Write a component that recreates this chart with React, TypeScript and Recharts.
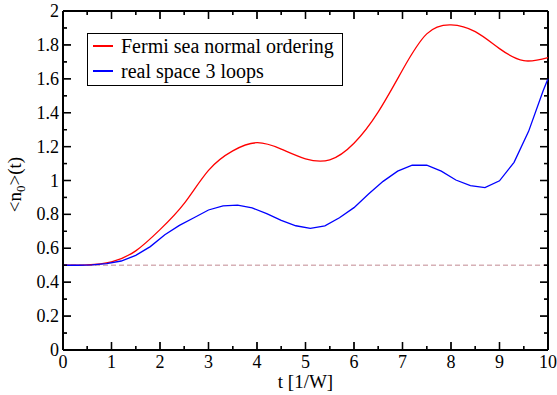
import { LineChart, Line, XAxis, YAxis, ReferenceLine, Legend } from "recharts";

// Fermi sea normal ordering (red, smooth)
const redT = [0, 0.5, 1, 1.5, 2, 2.5, 3, 3.5, 4, 4.5, 5, 5.5, 6, 6.5, 7, 7.5, 8, 8.5, 9, 9.5, 10];
const redN = [0.5, 0.502, 0.52, 0.585, 0.71, 0.865, 1.06, 1.175, 1.223, 1.185, 1.128, 1.122, 1.22, 1.405, 1.652, 1.865, 1.918, 1.878, 1.778, 1.707, 1.725];

// real space 3 loops (blue, piecewise)
const blueT = [0, 0.3, 0.6, 0.9, 1.2, 1.5, 1.8, 2.1, 2.4, 2.7, 3, 3.3, 3.6, 3.9, 4.2, 4.5, 4.8, 5.1, 5.4, 5.7, 6, 6.3, 6.6, 6.9, 7.2, 7.5, 7.8, 8.1, 8.4, 8.7, 9, 9.3, 9.6, 9.9, 10];
const blueN = [0.5, 0.5, 0.502, 0.51, 0.525, 0.558, 0.61, 0.68, 0.735, 0.78, 0.826, 0.85, 0.855, 0.838, 0.805, 0.765, 0.733, 0.718, 0.732, 0.78, 0.84, 0.92, 0.995, 1.055, 1.09, 1.09, 1.055, 1.003, 0.97, 0.958, 0.998, 1.107, 1.29, 1.53, 1.6];

const xTicks = [0, 0.5, 1, 1.5, 2, 2.5, 3, 3.5, 4, 4.5, 5, 5.5, 6, 6.5, 7, 7.5, 8, 8.5, 9, 9.5, 10];
const yTicks = [0, 0.1, 0.2, 0.3, 0.4, 0.5, 0.6, 0.7, 0.8, 0.9, 1, 1.1, 1.2, 1.3, 1.4, 1.5, 1.6, 1.7, 1.8, 1.9, 2];

const redData = redT.map((t, i) => ({ t, n: redN[i] }));
const blueData = blueT.map((t, i) => ({ t, n: blueN[i] }));

const FONT = "'Liberation Serif', 'Times New Roman', serif";
const LEFT = 63;
const RIGHT = 548;
const TOP = 11;
const BOTTOM = 350;
const X_MIN = 0;
const X_MAX = 10;
const Y_MIN = 0;
const Y_MAX = 2;
// tick lengths in px converted to data units
const xUnit = (X_MAX - X_MIN) / (RIGHT - LEFT);
const yUnit = (Y_MAX - Y_MIN) / (BOTTOM - TOP);

const isMajorX = (v: number) => Math.abs(v - Math.round(v)) < 1e-6;
const isMajorY = (v: number) => Math.round(v * 10) % 2 === 0;

// inward tick marks on all four sides, as one flat list
const tickSegs: { key: string; seg: { x: number; y: number }[] }[] = [];
xTicks.forEach((v) => {
  const len = (isMajorX(v) ? 8 : 4) * yUnit;
  tickSegs.push({ key: `xb${v}`, seg: [{ x: v, y: Y_MIN }, { x: v, y: Y_MIN + len }] });
  tickSegs.push({ key: `xt${v}`, seg: [{ x: v, y: Y_MAX }, { x: v, y: Y_MAX - len }] });
});
yTicks.forEach((v) => {
  const len = (isMajorY(v) ? 8 : 4) * xUnit;
  tickSegs.push({ key: `yl${v}`, seg: [{ x: X_MIN, y: v }, { x: X_MIN + len, y: v }] });
  tickSegs.push({ key: `yr${v}`, seg: [{ x: X_MAX, y: v }, { x: X_MAX - len, y: v }] });
});

// same tick marks drawn as plain svg (fallback layer)
function FrameTicks() {
  const px = (v: number) => LEFT + ((v - X_MIN) / (X_MAX - X_MIN)) * (RIGHT - LEFT);
  const py = (v: number) => BOTTOM - ((v - Y_MIN) / (Y_MAX - Y_MIN)) * (BOTTOM - TOP);
  return (
    <g stroke="#000" strokeWidth={1.3}>
      {xTicks.map((v) => {
        const len = isMajorX(v) ? 8 : 4;
        const x = px(v);
        return (
          <g key={`fx${v}`}>
            <line x1={x} x2={x} y1={BOTTOM} y2={BOTTOM - len} />
            <line x1={x} x2={x} y1={TOP} y2={TOP + len} />
          </g>
        );
      })}
      {yTicks.map((v) => {
        const len = isMajorY(v) ? 8 : 4;
        const y = py(v);
        return (
          <g key={`fy${v}`}>
            <line x1={LEFT} x2={LEFT + len} y1={y} y2={y} />
            <line x1={RIGHT} x2={RIGHT - len} y1={y} y2={y} />
          </g>
        );
      })}
    </g>
  );
}

function XTick(props: any) {
  const { x, payload } = props;
  const v = payload.value;
  if (!isMajorX(v)) return <g />;
  return (
    <text x={x} y={BOTTOM + 18} textAnchor="middle" fontSize={18} fontFamily={FONT} fill="#000">
      {String(Math.round(v))}
    </text>
  );
}

function YTick(props: any) {
  const { y, payload } = props;
  const v = payload.value;
  if (!isMajorY(v)) return <g />;
  const k = Math.round(v * 10);
  const label = k % 10 === 0 ? String(k / 10) : (k / 10).toFixed(1);
  return (
    <text x={59} y={y + 6} textAnchor="end" fontSize={18} fontFamily={FONT} fill="#000">
      {label}
    </text>
  );
}

function renderLegend(props: any) {
  const items = props.payload || [];
  return (
    <div
      style={{
        position: "absolute",
        left: 0,
        top: 0,
        width: 254,
        height: 51,
        border: "1.5px solid #000",
        background: "#fff",
        fontFamily: FONT,
        fontSize: 20,
      }}
    >
      {items.map((it: any, i: number) => (
        <div
          key={i}
          style={{ position: "absolute", left: 0, top: i * 25, height: 24, display: "flex", alignItems: "center", whiteSpace: "nowrap" }}
        >
          <div style={{ width: 20, height: 1.2, background: it.color, marginLeft: 5, marginRight: 8 }} />
          <span style={{ lineHeight: "24px", color: "#000" }}>{it.value}</span>
        </div>
      ))}
    </div>
  );
}

export default function App() {
  return (
    <div style={{ position: "absolute", left: 0, top: 0, width: 557, height: 395, background: "#fff", fontFamily: FONT }}>
      <LineChart width={557} height={395} margin={{ top: TOP, right: 557 - RIGHT, left: 8, bottom: 15 }}>
        <XAxis
          dataKey="t"
          type="number"
          domain={[X_MIN, X_MAX]}
          ticks={xTicks}
          interval={0}
          height={30}
          tickLine={false}
          axisLine={{ stroke: "#000", strokeWidth: 2 }}
          tick={<XTick />}
          allowDuplicatedCategory={false}
          label={{
            content: () => (
              <g>
                <FrameTicks />
                <text x={(LEFT + RIGHT) / 2} y={388} textAnchor="middle" fontSize={19} fontFamily={FONT} fill="#000">
                  t [1/W]
                </text>
              </g>
            ),
          }}
        />
        <YAxis
          type="number"
          domain={[Y_MIN, Y_MAX]}
          ticks={yTicks}
          interval={0}
          width={55}
          tickLine={false}
          axisLine={{ stroke: "#000", strokeWidth: 2 }}
          tick={<YTick />}
          label={{
            content: () => (
              <text
                transform={`translate(21, ${(TOP + BOTTOM) / 2 + 4}) rotate(-90)`}
                textAnchor="middle"
                fontSize={19}
                fontFamily={FONT}
                fill="#000"
              >
                &lt;n<tspan dy={4} fontSize={13}>0</tspan>
                <tspan dy={-4}>&gt;(t)</tspan>
              </text>
            ),
          }}
        />
        <ReferenceLine y={0.5} stroke="#d6b0b6" strokeWidth={1.5} strokeDasharray="5 3" />
        <ReferenceLine y={Y_MAX} stroke="#000" strokeWidth={2} />
        <ReferenceLine x={X_MAX} stroke="#000" strokeWidth={2} />
        {tickSegs.map((s) => (
          <ReferenceLine key={s.key} segment={s.seg} stroke="#000" strokeWidth={1.3} />
        ))}
        <Line
          data={redData}
          dataKey="n"
          name="Fermi sea normal ordering"
          type="natural"
          stroke="#ff0000"
          strokeWidth={1.3}
          dot={false}
          isAnimationActive={false}
        />
        <Line
          data={blueData}
          dataKey="n"
          name="real space 3 loops"
          type="linear"
          stroke="#0000ff"
          strokeWidth={1.3}
          dot={false}
          isAnimationActive={false}
        />
        <Legend
          content={renderLegend}
          wrapperStyle={{ position: "absolute", left: 87, top: 33, width: 0, height: 0, overflow: "visible" }}
        />
      </LineChart>
    </div>
  );
}
